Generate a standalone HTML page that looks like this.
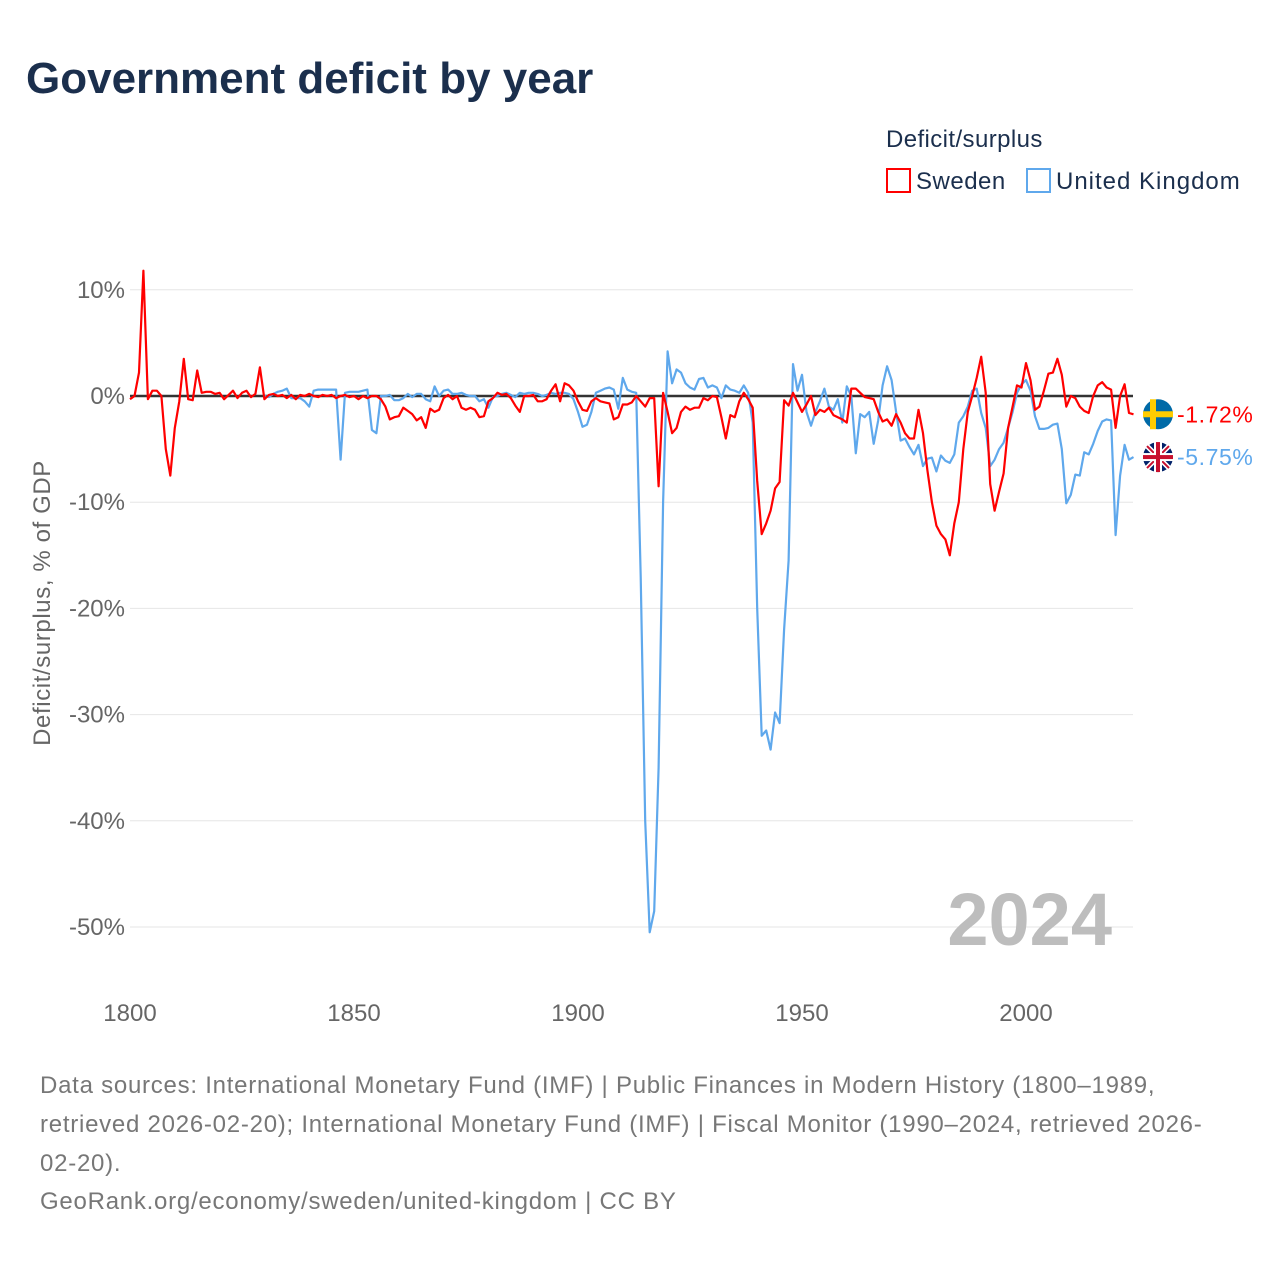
<!DOCTYPE html>
<html><head><meta charset="utf-8"><style>
body{margin:0;background:#fff;}
svg text{font-family:"Liberation Sans",sans-serif;}
</style></head><body>
<svg id="c" width="1280" height="1280" xmlns="http://www.w3.org/2000/svg">
<rect width="1280" height="1280" fill="#fff"/>
<text x="26" y="93" font-size="44" font-weight="bold" fill="#1b2f4d">Government deficit by year</text>
<text x="886" y="147" font-size="24" fill="#1b2f4d" letter-spacing="0.4">Deficit/surplus</text>
<g><rect x="887" y="169" width="23" height="23" fill="none" stroke="#ff0000" stroke-width="2"/><text x="916" y="189" font-size="24" fill="#1b2f4d" letter-spacing="0.5">Sweden</text></g>
<g><rect x="1027" y="169" width="23" height="23" fill="none" stroke="#5fa8ec" stroke-width="2"/><text x="1056" y="189" font-size="24" fill="#1b2f4d" letter-spacing="1">United Kingdom</text></g>
<g id="grid"></g><g id="axes"></g><g id="series"></g>
<text x="1112" y="945" font-size="74" font-weight="bold" fill="#bdbdbd" text-anchor="end">2024</text>
<text transform="translate(50,603) rotate(-90)" font-size="24" fill="#666" text-anchor="middle" letter-spacing="0.6">Deficit/surplus, % of GDP</text>
<g font-size="24" fill="#777" letter-spacing="0.75">
<text x="40" y="1093">Data sources: International Monetary Fund (IMF) | Public Finances in Modern History (1800–1989,</text>
<text x="40" y="1132">retrieved 2026-02-20); International Monetary Fund (IMF) | Fiscal Monitor (1990–2024, retrieved 2026-</text>
<text x="40" y="1171">02-20).</text>
<text x="40" y="1209">GeoRank.org/economy/sweden/united-kingdom | CC BY</text>
</g>
</svg>
<script>
const years0 = 1800;
const sweden = [
-0.3,0,2.2,11.8,-0.3,0.5,0.5,0,-5,-7.5,
-3,-0.5,3.5,-0.3,-0.4,2.4,0.3,0.4,0.4,0.2,
0.3,-0.3,0.1,0.5,-0.2,0.3,0.5,-0.1,0.2,2.7,
-0.3,0.1,0.2,0,0.1,-0.2,0.1,-0.3,0.1,0,
0.2,0,-0.1,0.1,0,0.1,-0.2,0,0.1,-0.1,
0,-0.3,0,-0.2,0,0,-0.3,-1,-2.2,-2,
-1.9,-1.1,-1.4,-1.7,-2.3,-2,-3,-1.2,-1.5,-1.3,
-0.2,0.1,-0.3,0,-1.1,-1.3,-1.1,-1.3,-2,-1.9,
-0.5,-0.2,0.3,0.1,0.2,-0.2,-0.9,-1.5,0,0,
0.1,-0.5,-0.5,-0.3,0.5,1.1,-0.5,1.2,1,0.5,
-0.5,-1.3,-1.4,-0.5,-0.2,-0.5,-0.6,-0.7,-2.2,-2,
-0.8,-0.8,-0.6,0,-0.5,-1,-0.2,-0.2,-8.5,0.3,
-1.5,-3.5,-3,-1.5,-1,-1.3,-1.1,-1.1,-0.2,-0.4,
0,-0.1,-2,-4,-1.8,-2,-0.5,0.3,-0.3,-1.1,
-8,-13,-12,-10.8,-8.7,-8.1,-0.4,-0.9,0.3,-0.6,
-1.5,-0.8,0,-1.8,-1.3,-1.5,-1.1,-1.8,-2,-2.2,
-2.5,0.7,0.7,0.3,-0.1,-0.2,-0.3,-1.5,-2.4,-2.2,
-2.8,-1.7,-2.5,-3.5,-4,-4,-1.3,-3.5,-7,-10,
-12.2,-13,-13.5,-15,-12,-10,-5,-1.5,0,1.7,
3.7,0.3,-8.3,-10.8,-9,-7.3,-3,-1,1,0.8,
3.1,1.5,-1.3,-1,0.5,2.1,2.2,3.5,2,-1,
0,-0.2,-1,-1.4,-1.6,0,1,1.3,0.8,0.6,
-3,0,1.1,-1.6,-1.72];
const ukStart = 1830;
const uk = [
0,-0.1,0.2,0.4,0.5,0.7,-0.2,-0.2,-0.2,-0.5,
-1,0.5,0.6,0.6,0.6,0.6,0.6,-6,0.3,0.4,
0.4,0.4,0.5,0.6,-3.2,-3.5,0,0,0.1,-0.4,
-0.4,-0.2,0.2,-0.1,0.2,0.2,-0.3,-0.5,0.9,0,
0.5,0.6,0.2,0.2,0.3,0.1,0,0,-0.5,-0.3,
-1.1,-0.1,0,0.2,0.3,0.1,-0.1,0.3,0.2,0.3,
0.3,0.2,0,0.1,0.3,0.2,0.3,0.3,0.2,-0.3,
-1.5,-2.9,-2.7,-1.5,0.3,0.5,0.7,0.8,0.6,-1.2,
1.7,0.6,0.4,0.3,-17,-40,-50.5,-48.5,-35,-10,
4.2,1.2,2.5,2.2,1.2,0.8,0.6,1.6,1.7,0.8,
1,0.8,-0.2,1,0.6,0.5,0.3,1,0.3,-2.5,
-20,-32,-31.5,-33.3,-29.8,-30.8,-22,-15.5,3,0.5,
2,-1.5,-2.8,-1.5,-0.5,0.7,-1,-1.3,-0.3,-2.5,
0.9,0,-5.4,-1.7,-2,-1.5,-4.5,-2.3,1,2.8,
1.5,-1.5,-4.2,-4,-4.8,-5.5,-4.6,-6.6,-5.9,-5.8,
-7.1,-5.6,-6.1,-6.3,-5.5,-2.5,-1.9,-1,0.5,0.7,
-1.6,-3,-6.6,-6,-5,-4.4,-3,-1.5,0.3,1.1,
1.5,0.5,-1.9,-3.1,-3.1,-3,-2.7,-2.6,-5,-10.1,
-9.3,-7.4,-7.5,-5.3,-5.5,-4.5,-3.3,-2.4,-2.2,-2.3,
-13.1,-7.5,-4.6,-6,-5.75];
const yTicks = [10,0,-10,-20,-30,-40,-50];
const xTicks = [1800,1850,1900,1950,2000];

const NS='http://www.w3.org/2000/svg';
const X = y => 130 + (y-1800)*4.48;
const Y = v => 396 - v*10.62;
function mk(tag, attrs, parent){const e=document.createElementNS(NS,tag);for(const k in attrs)e.setAttribute(k,attrs[k]);parent.appendChild(e);return e;}
const grid=document.getElementById('grid'), axes=document.getElementById('axes'), ser=document.getElementById('series');
yTicks.forEach(t=>{
  if(t!==0){const l=mk('line',{x1:130,x2:1133,y1:Y(t),y2:Y(t),stroke:'#e6e6e6','stroke-width':1},grid);
  
  }
  const tx=mk('text',{x:125,y:Y(t)+8,'font-size':24,fill:'#666','text-anchor':'end'},axes);
  tx.textContent=t+'%';
  
  
});
xTicks.forEach(t=>{
  const tx=mk('text',{x:X(t),y:1021,'font-size':24,fill:'#666','text-anchor':'middle'},axes);
  tx.textContent=t;
  
  
});
const zl=mk('line',{x1:130,x2:1133,y1:Y(0),y2:Y(0),stroke:'#333','stroke-width':2.5},grid);


function path(vals,start,color,name){
  const d=vals.map((v,i)=>(i?'L':'M')+X(start+i).toFixed(1)+','+Y(v).toFixed(1)).join('');
  const p=mk('path',{d:d,fill:'none',stroke:color,'stroke-width':2.2,'stroke-linejoin':'round'},ser);
  
  
}
path(uk,ukStart,'#5fa8ec','uk-line');
path(sweden,years0,'#ff0000','sweden-line');
const sv=sweden[sweden.length-1], uv=uk[uk.length-1];
const ys=Y(sv), yu=Y(uv);
const sf=mk('g',{},ser);


mk('circle',{cx:1158,cy:ys,r:15,fill:'#006aa7'},sf);
mk('rect',{x:1150,y:ys-15,width:6,height:30,fill:'#fecc00'},sf);
mk('rect',{x:1143,y:ys-3,width:30,height:6,fill:'#fecc00'},sf);
const ts=mk('text',{x:1177,y:ys+8,'font-size':23,fill:'#ff0000','letter-spacing':0.6},ser);
ts.textContent=sv.toFixed(2)+'%';


const uf=mk('g',{},ser);


mk('circle',{cx:1158,cy:yu,r:15,fill:'#012169'},uf);
mk('path',{d:`M1147,${yu-11}L1169,${yu+11}M1169,${yu-11}L1147,${yu+11}`,stroke:'#fff','stroke-width':5},uf);
mk('path',{d:`M1147,${yu-11}L1169,${yu+11}M1169,${yu-11}L1147,${yu+11}`,stroke:'#c8102e','stroke-width':2},uf);
mk('rect',{x:1143,y:yu-4,width:30,height:8,fill:'#fff'},uf);
mk('rect',{x:1154,y:yu-15,width:8,height:30,fill:'#fff'},uf);
mk('rect',{x:1143,y:yu-2,width:30,height:4,fill:'#c8102e'},uf);
mk('rect',{x:1156,y:yu-15,width:4,height:30,fill:'#c8102e'},uf);
const tu=mk('text',{x:1177,y:yu+8,'font-size':23,fill:'#5fa8ec','letter-spacing':0.6},ser);
tu.textContent=uv.toFixed(2)+'%';


</script>
</body></html>
